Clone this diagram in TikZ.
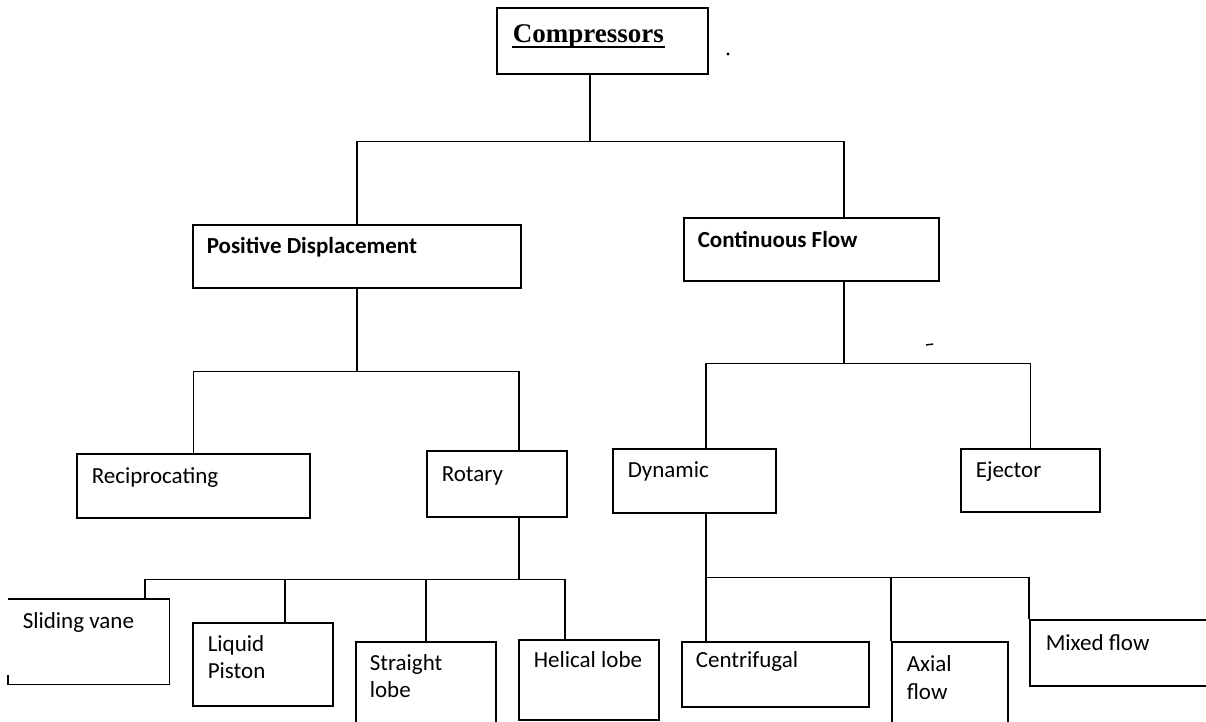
\documentclass[tikz,border=0pt]{standalone}
\usepackage{fontspec}
\setmainfont{Carlito}
\newfontfamily\compfont{Liberation Serif}
\usetikzlibrary{calc}
\begin{document}
\begin{tikzpicture}[x=1pt,y=-1pt,line width=1.6pt,
  box/.style={draw,rectangle,inner sep=0pt,anchor=north west},
  openbox/.style={rectangle,inner sep=0pt,anchor=north west},
  lbl/.style={anchor=base west,inner sep=0pt,font=\fontsize{23}{28}\selectfont},
  blbl/.style={lbl,font=\fontsize{23}{28}\selectfont\bfseries},
  conn/.style={line width=1.6pt}]
\useasboundingbox (0,0) rectangle (1206,721);
\clip (0,0) rectangle (1206,721);
% boxes
\node[box,minimum width=211pt,minimum height=66pt] (comp) at (496,7) {};
\node[box,minimum width=328pt,minimum height=63pt] (pd) at (192,224) {};
\node[box,minimum width=255pt,minimum height=63pt] (cf) at (683,217) {};
\node[box,minimum width=233pt,minimum height=64pt] (rec) at (76,453) {};
\node[box,minimum width=140pt,minimum height=66pt] (rot) at (426,450) {};
\node[box,minimum width=163pt,minimum height=64pt] (dyn) at (612,448) {};
\node[box,minimum width=139pt,minimum height=63pt] (ej) at (960,448) {};
\node[openbox,minimum width=160pt,minimum height=84pt] (sv) at (8,599) {};
\node[box,minimum width=140pt,minimum height=83pt] (lp) at (192,622) {};
\node[box,minimum width=140pt,minimum height=95pt] (sl) at (355,641) {};
\node[box,minimum width=140pt,minimum height=80pt] (hl) at (518,639) {};
\node[box,minimum width=187pt,minimum height=65pt] (cen) at (681,641) {};
\node[box,minimum width=116pt,minimum height=90pt] (ax) at (891,641) {};
\node[box,minimum width=200pt,minimum height=66pt] (mf) at (1029,619) {};
% open sliding vane box
\draw (sv.north west) -- (sv.north east) -- (sv.south east) -- (sv.south west) -- ++(0,-10);
% labels
\node[anchor=base west,inner sep=0pt,font=\compfont\fontsize{27}{32}\selectfont\bfseries] (compT) at (512,42) {Compressors};
\draw[line width=1.8pt] ($(compT.base west)+(0,5)$) -- ($(compT.base east)+(0,5)$);
\node[blbl] (pdT) at (206,253) {Positive Displacement};
\node[blbl] (cfT) at (697,247) {Continuous Flow};
\node[lbl] (recT) at (91,483) {Reciprocating};
\node[lbl] (rotT) at (441,481) {Rotary};
\node[lbl] (dynT) at (627,477) {Dynamic};
\node[lbl] (ejT) at (975,477) {Ejector};
\node[lbl] (svT) at (22,628) {Sliding vane};
\node[lbl] (lpT1) at (207,651) {Liquid};
\node[lbl] (lpT2) at (207,678) {Piston};
\node[lbl] (slT1) at (369,670) {Straight};
\node[lbl] (slT2) at (369,697) {lobe};
\node[lbl] (hlT) at (533,667) {Helical lobe};
\node[lbl] (cenT) at (695,667) {Centrifugal};
\node[lbl] (axT1) at (906,671) {Axial};
\node[lbl] (axT2) at (906,699) {flow};
\node[lbl] (mfT) at (1045,650) {Mixed flow};
% connector attachment points
\coordinate (compB) at ($(comp.south west)+(94,0)$);
\coordinate (cfT0) at ($(cf.north west)+(161,0)$);
\coordinate (cfB) at ($(cf.south west)+(161,0)$);
\coordinate (rotT0) at ($(rot.north west)+(93,0)$);
\coordinate (rotB) at ($(rot.south west)+(93,0)$);
\coordinate (dynT0) at ($(dyn.north west)+(94,0)$);
\coordinate (dynB) at ($(dyn.south west)+(94,0)$);
\coordinate (svT0) at ($(sv.north west)+(137,0)$);
\coordinate (lpT0) at ($(lp.north west)+(93,0)$);
\coordinate (slT0) at ($(sl.north west)+(71,0)$);
\coordinate (hlT0) at ($(hl.north west)+(47,0)$);
\coordinate (cenT0) at ($(cen.north west)+(25,0)$);
% bus levels
\coordinate (c1) at ($(compB)+(0,67)$);
\coordinate (c2) at ($(pd.south)+(0,83)$);
\coordinate (c3) at ($(cfB)+(0,82)$);
\coordinate (c4) at ($(rotB)+(0,62)$);
\coordinate (c5) at ($(dynB)+(0,64)$);
% connectors
\draw[conn] (compB) -- (c1);
\draw[conn] (pd.north) -- (pd.north |- c1) -- (cfT0 |- c1) -- (cfT0);
\draw[conn] (pd.south) -- (c2);
\draw[conn] (rec.north) -- (rec.north |- c2) -- (rotT0 |- c2) -- (rotT0);
\draw[conn] (cfB) -- (c3);
\draw[conn] (dynT0) -- (dynT0 |- c3) -- (ej.north |- c3) -- (ej.north);
\draw[conn] (rotB) -- (c4);
\draw[conn] (svT0) -- (svT0 |- c4) -- (hlT0 |- c4) -- (hlT0);
\draw[conn] (lpT0) -- (lpT0 |- c4);
\draw[conn] (slT0) -- (slT0 |- c4);
\draw[conn] (dynB) -- (c5);
\draw[conn] (cenT0) -- (cenT0 |- c5) -- (mf.north west |- c5) -- (mf.north west);
\draw[conn] (ax.north west) -- (ax.north west |- c5);
% specks
\fill (728,54) circle (1.6pt);
\draw[line width=1.4pt] (926,345) -- (933,344);
\end{tikzpicture}
\end{document}
